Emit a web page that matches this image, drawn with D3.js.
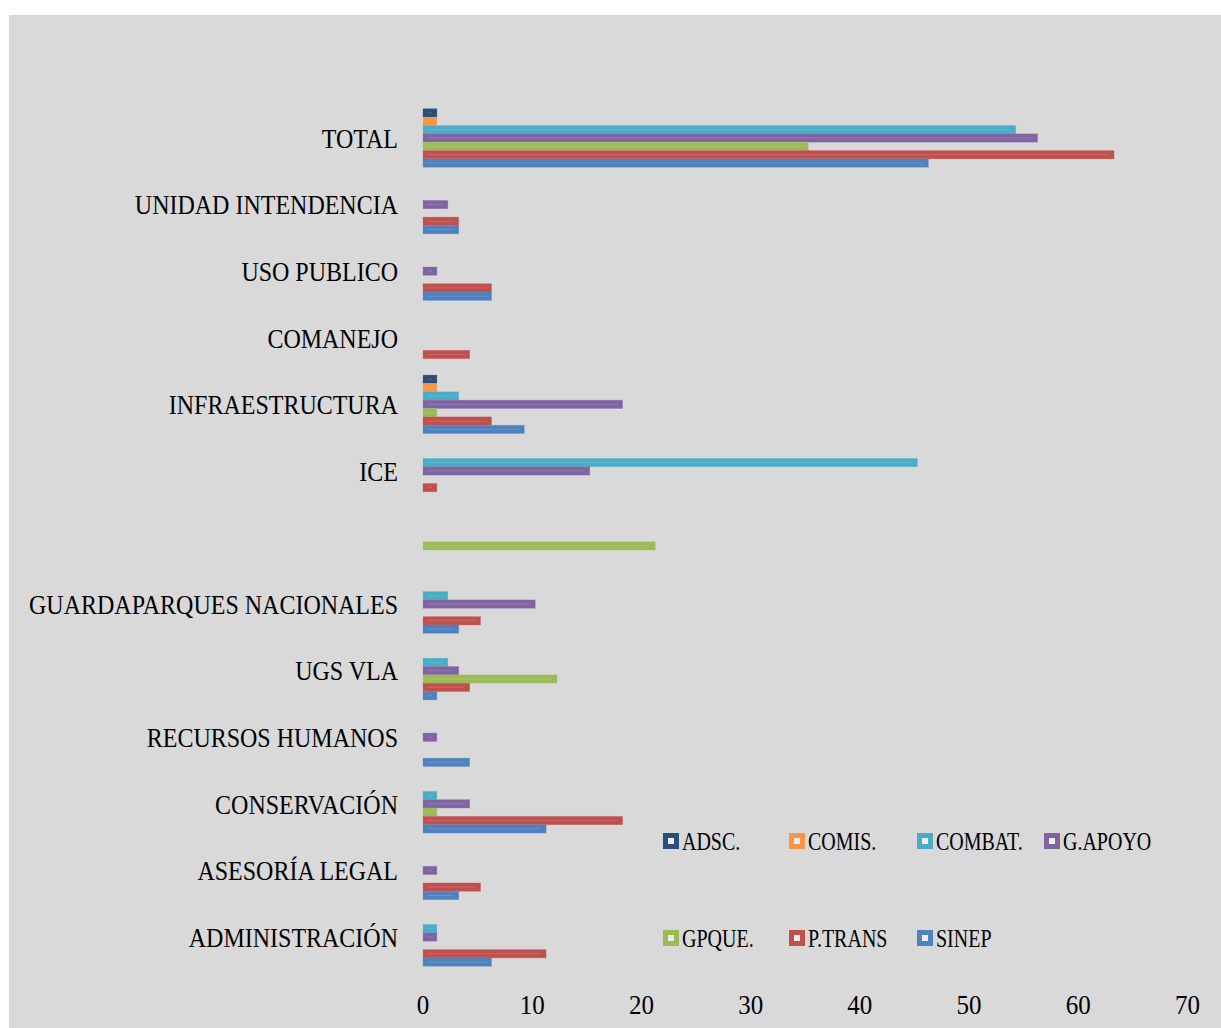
<!DOCTYPE html>
<html><head><meta charset="utf-8">
<script src="https://cdn.jsdelivr.net/npm/d3@7"></script>
<style>body{margin:0;background:#fff;}svg{display:block;}</style>
</head><body>
<script>
const categories = ["ADMINISTRACIÓN","ASESORÍA LEGAL","CONSERVACIÓN","RECURSOS HUMANOS","UGS VLA","GUARDAPARQUES NACIONALES","","ICE","INFRAESTRUCTURA","COMANEJO","USO PUBLICO","UNIDAD INTENDENCIA","TOTAL"];
const seriesNames = ["ADSC.","COMIS.","COMBAT.","G.APOYO","GPQUE.","P.TRANS","SINEP"];
const seriesColors = ["#2c4d77","#f79646","#4bacc6","#8064a2","#9bbb59","#c0504d","#4f81bd"];
const adsc   = [0,0,0,0,0,0,0,0,1,0,0,0,1];
const comis  = [0,0,0,0,0,0,0,0,1,0,0,0,1];
const combat = [1,0,1,0,2,2,0,45,3,0,0,0,54];
const gapoyo = [1,1,4,1,3,10,0,15,18,0,1,2,56];
const gpque  = [0,0,1,0,12,0,21,0,1,0,0,0,35];
const ptrans = [11,5,18,0,4,5,0,1,6,4,6,3,63];
const sinep  = [6,3,11,4,1,3,0,0,9,0,6,3,46];
const seriesValues = [adsc,comis,combat,gapoyo,gpque,ptrans,sinep];
const xTicks = [0,10,20,30,40,50,60,70];

const W=1221,H=1028;
const svg=d3.select("body").append("svg").attr("width",W).attr("height",H);
svg.append("rect").attr("x",9).attr("y",15).attr("width",W-9).attr("height",H-15).attr("fill","#d9d9d9");
const font="'Liberation Serif', 'DejaVu Serif', serif";

const x=d3.scaleLinear().domain([0,70]).range([423,1187.5]);
const y0=d3.scaleBand().domain(categories.slice().reverse()).range([104.7,970.3]).padding(0);
const y1=d3.scaleBand().domain(seriesNames).range([0,y0.bandwidth()]).paddingInner(0).paddingOuter(0.485);

// bars
seriesNames.forEach((s,si)=>{
  const g=svg.append("g");
  categories.forEach((c,ci)=>{
    const v=seriesValues[si][ci];
    if(!v) return;
    const yy=y0(c)+y1(s);
    const w=x(v)-x(0)+3;
    g.append("rect").attr("x",x(0)).attr("y",yy).attr("width",w).attr("height",y1.bandwidth())
      .attr("fill",seriesColors[si]).attr("stroke",d3.color(seriesColors[si]).brighter(0.3)).attr("stroke-opacity",0.35).attr("stroke-width",0.8);
    if(w>12){
      g.append("line").attr("x1",x(0)+4).attr("x2",x(0)+w-5).attr("y1",yy+y1.bandwidth()/2).attr("y2",yy+y1.bandwidth()/2)
        .attr("stroke","#fff").attr("stroke-opacity",0.15).attr("stroke-width",1);
    }
  });
});

function txt(sel, x, y, size, sy, anchor){
  sel.attr("transform",`translate(${x},${y}) scale(1,${sy})`).attr("x",0).attr("y",0).attr("dy","0.36em")
    .attr("text-anchor",anchor).attr("font-family",font).attr("font-size",size).attr("fill","#000");
}

// category labels
categories.forEach(c=>{
  txt(svg.append("text").text(c), 398, y0(c)+y0.bandwidth()/2, 24, 1.13, "end");
});

// x tick labels
xTicks.forEach(t=>{
  txt(svg.append("text").text(t), x(t), 1005, 25, 1.05, "middle");
});

// legend
const legendPos=[[663,841],[789,841],[917,841],[1044,841],[663,938],[789,938],[917,938]];
seriesNames.forEach((s,i)=>{
  const [lx,ly]=legendPos[i];
  svg.append("rect").attr("x",lx).attr("y",ly-8).attr("width",16).attr("height",16).attr("fill",seriesColors[i]);
  svg.append("rect").attr("x",lx+5).attr("y",ly-3).attr("width",6).attr("height",6).attr("fill","#ececec");
  txt(svg.append("text").text(s), lx+19, ly, 20, 1.22, "start");
});
</script>
</body></html>
